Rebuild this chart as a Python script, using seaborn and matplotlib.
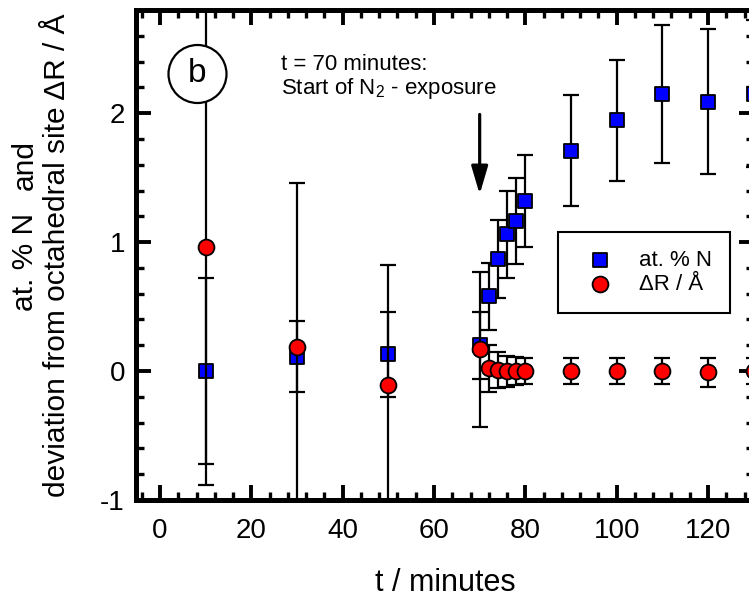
import matplotlib
matplotlib.use("Agg")
import matplotlib.pyplot as plt
import seaborn as sns
import pandas as pd
from matplotlib.patches import Ellipse
from matplotlib.ticker import MultipleLocator

# ---- data ----
t_min = [10, 30, 50, 70, 72, 74, 76, 78, 80, 90, 100, 110, 120, 130]
at_pct_N = [0.0, 0.11, 0.13, 0.20, 0.58, 0.87, 1.06, 1.165, 1.32, 1.71, 1.945, 2.15, 2.09, 2.15]
at_pct_N_err = [0.72, 0.275, 0.33, 0.26, 0.26, 0.30, 0.34, 0.335, 0.355, 0.43, 0.47, 0.535, 0.56, 0.57]
delta_R = [0.96, 0.19, -0.11, 0.17, 0.02, 0.01, 0.0, 0.0, 0.0, 0.0, 0.0, 0.0, -0.01, 0.0]
delta_R_err = [1.84, 1.27, 0.93, 0.60, 0.18, 0.14, 0.12, 0.11, 0.10, 0.10, 0.10, 0.10, 0.11, 0.10]

label_N = "at. % N"
label_R = "ΔR / Å"
xticks = [0, 20, 40, 60, 80, 100, 120]
yticks = [-1, 0, 1, 2]

df_N = pd.DataFrame({"t": t_min, "v": at_pct_N, "e": at_pct_N_err})
df_R = pd.DataFrame({"t": t_min, "v": delta_R, "e": delta_R_err})

sns.set_theme(style="ticks")
plt.rcParams["font.family"] = ["Liberation Sans", "DejaVu Sans"]
plt.rcParams["mathtext.fontset"] = "custom"
plt.rcParams["mathtext.rm"] = "Liberation Sans"
plt.rcParams["mathtext.it"] = "Liberation Sans:italic"
plt.rcParams["axes.unicode_minus"] = False
for k in ["text.color", "axes.labelcolor", "xtick.color", "ytick.color",
          "xtick.labelcolor", "ytick.labelcolor", "axes.edgecolor", "legend.labelcolor"]:
    plt.rcParams[k] = "black"

W, H = 749, 602
fig = plt.figure(figsize=(W / 100, H / 100), dpi=100)
fig.patch.set_facecolor("white")
left_px, right_px, top_px, bot_px = 136, 753.7, 10, 500
ax = fig.add_axes([left_px / W, (H - bot_px) / H, (right_px - left_px) / W, (bot_px - top_px) / H])
ax.set_facecolor("white")

eb_kw = dict(fmt="none", ecolor="black", elinewidth=1.6, capsize=6, capthick=1.6)
ax.errorbar(df_N["t"], df_N["v"], yerr=df_N["e"], zorder=2, **eb_kw)
sns.scatterplot(data=df_N, x="t", y="v", marker="s", s=92, color="#0000ff",
                edgecolor="black", linewidth=1.3, ax=ax, label=label_N, zorder=3, clip_on=False)
ax.errorbar(df_R["t"], df_R["v"], yerr=df_R["e"], zorder=4, **eb_kw)
sns.scatterplot(data=df_R, x="t", y="v", marker="o", s=130, color="#ff0000",
                edgecolor="black", linewidth=1.3, ax=ax, label=label_R, zorder=5, clip_on=False)

ax.set_xlim(-5.25, 130)
ax.set_ylim(-1, 2.8)
ax.set_xticks(xticks)
ax.set_yticks(yticks)
ax.xaxis.set_minor_locator(MultipleLocator(4))
ax.yaxis.set_minor_locator(MultipleLocator(0.2))
ax.tick_params(which="both", direction="in", top=True, right=True, color="black", labelcolor="black")
ax.tick_params(which="major", length=10.5, width=2.8)
ax.tick_params(which="minor", length=6, width=2.4)
ax.tick_params(axis="x", which="major", labelsize=20, pad=13)
ax.tick_params(axis="y", which="major", labelsize=20, pad=8)
for sp in ax.spines.values():
    sp.set_linewidth(3.6)
    sp.set_color("black")

ax.set_xlabel("t / minutes", fontsize=22, va="top", color="black")
ax.xaxis.set_label_coords(0.5, -(568 - bot_px) / (bot_px - top_px))
ax.set_ylabel("")

# y label (two lines)
fig.text(57 / W, 1 - 255 / H, "deviation from octahedral site ΔR / Å", rotation=90,
         ha="center", va="center", fontsize=21.5, color="black")
fig.text(25 / W, 1 - 262 / H, "at. % N", rotation=90, ha="center", va="center", fontsize=21.5, color="black")
fig.text(25 / W, 1 - 165 / H, "and", rotation=90, ha="center", va="center", fontsize=21.5, color="black")

# legend
leg = ax.legend(loc="upper left", bbox_to_anchor=(558 / W, 1 - 232 / H), bbox_transform=fig.transFigure,
                fontsize=16, frameon=True, fancybox=False, edgecolor="black", framealpha=1,
                borderpad=0.8, handlelength=2.2, handletextpad=0.64, labelspacing=0.15,
                borderaxespad=0)
leg.get_frame().set_linewidth(1.5)
for txt in leg.get_texts():
    txt.set_color("black")

# annotation
fig.text(281 / W, 1 - 70 / H, "t = 70 minutes:", fontsize=16, va="baseline", ha="left", color="black")
fig.text(281 / W, 1 - 94 / H, r"Start of N$_\mathregular{2}$ - exposure", fontsize=16,
         va="baseline", ha="left", color="black")
ax.annotate("", xy=(70, 1.37), xytext=(70, 1.99),
            arrowprops=dict(arrowstyle="-|>,head_length=0.85,head_width=0.25", lw=2.3,
                            color="black", shrinkA=0, shrinkB=0, mutation_scale=20))

# panel label
circ = Ellipse((197.5 / W, 1 - 74 / H), 58 / W, 58 / H, transform=fig.transFigure,
               facecolor="white", edgecolor="black", lw=1.6, zorder=10)
fig.add_artist(circ)
fig.text(197.5 / W, 1 - 74 / H, "b", fontsize=24, ha="center", va="center", zorder=11, color="black")

fig.savefig("out.png", dpi=100)
